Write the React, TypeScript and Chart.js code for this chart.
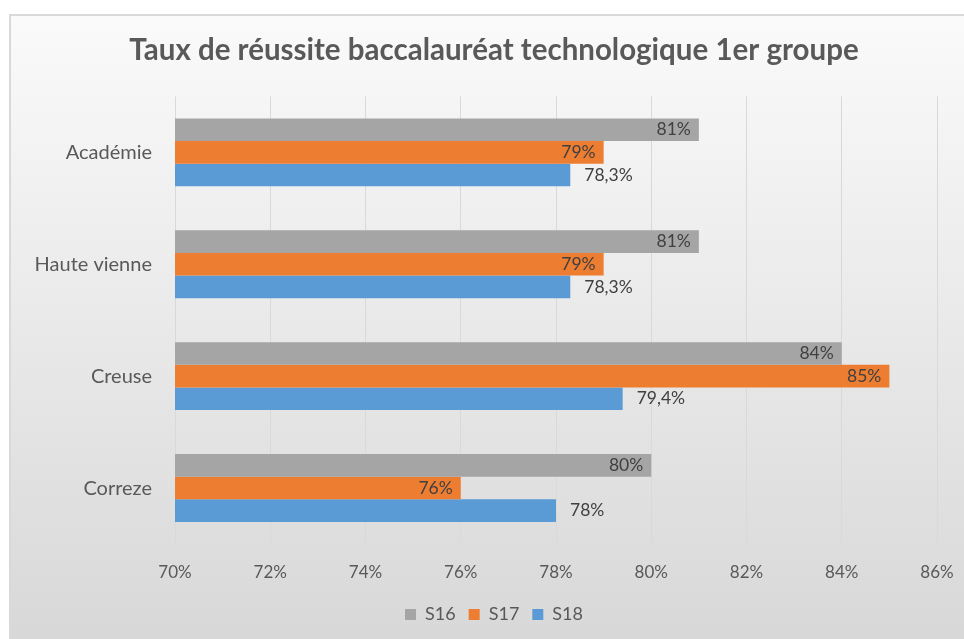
import React, { useEffect, useRef } from 'react';
import { Chart, registerables } from 'chart.js';

Chart.register(...registerables);

const chartTitle = 'Taux de réussite baccalauréat technologique 1er groupe';
const categories = ['Académie', 'Haute vienne', 'Creuse', 'Correze'];
const seriesNames = ['S16', 'S17', 'S18'];
const s16Values = [81, 81, 84, 80];
const s17Values = [79, 79, 85, 76];
const s18Values = [78.3, 78.3, 79.4, 78];
const xMin = 70;
const xMax = 86;
const xStep = 2;

const seriesColors = ['#a5a5a5', '#ed7d31', '#5b9bd5'];
const labelPlacement = ['inside', 'inside', 'outside'];

const fmtPct = (v: number) => String(v).replace('.', ',') + '%';

const FONT = 'Lato, "Open Sans", sans-serif';
const TEXT = '#595959';

const barLabelPlugin = {
  id: 'barLabels',
  afterDatasetsDraw(chart: any) {
    const ctx = chart.ctx;
    chart.data.datasets.forEach((ds: any, i: number) => {
      const meta = chart.getDatasetMeta(i);
      if (meta.hidden) return;
      meta.data.forEach((el: any, j: number) => {
        const txt = fmtPct(ds.data[j]);
        ctx.save();
        ctx.font = `17.5px ${FONT}`;
        ctx.fillStyle = '#404040';
        ctx.textBaseline = 'middle';
        if (labelPlacement[i] === 'inside') {
          ctx.textAlign = 'right';
          ctx.fillText(txt, el.x - 8, el.y);
        } else {
          ctx.textAlign = 'left';
          ctx.fillText(txt, el.x + 14, el.y);
        }
        ctx.restore();
      });
    });
  },
};

export default function App() {
  const canvasRef = useRef<HTMLCanvasElement | null>(null);

  useEffect(() => {
    if (!canvasRef.current) return;
    const seriesData = [s16Values, s17Values, s18Values];
    const chart = new Chart(canvasRef.current, {
      type: 'bar',
      data: {
        labels: categories,
        datasets: seriesNames.map((name, i) => ({
          label: name,
          data: seriesData[i],
          backgroundColor: seriesColors[i],
          borderWidth: 0,
          categoryPercentage: 0.607,
          barPercentage: 1,
          xAxisID: 'x',
          yAxisID: 'y',
        })),
      },
      options: {
        indexAxis: 'y',
        responsive: false,
        animation: false,
        layout: { padding: { left: 0, right: 0, top: 0, bottom: 5.5 } },
        plugins: {
          title: {
            display: true,
            text: chartTitle,
            color: TEXT,
            font: { family: FONT, size: 29.5, weight: 'bold' },
            padding: { top: 33, bottom: 28 },
          },
          legend: {
            display: true,
            position: 'bottom',
            labels: {
              boxWidth: 11,
              boxHeight: 11,
              padding: 13,
              color: TEXT,
              font: { family: FONT, size: 18 },
            },
          },
          tooltip: { enabled: false },
        },
        scales: {
          x: {
            type: 'linear',
            min: xMin,
            max: xMax,
            ticks: {
              stepSize: xStep,
              color: TEXT,
              font: { family: FONT, size: 17 },
              padding: 18,
              callback: (v: any) => v + '%',
            },
            grid: { color: '#d9d9d9', drawTicks: false },
            border: { display: false },
            afterFit: (s: any) => {
              s.height = 48.5;
            },
          },
          y: {
            type: 'category',
            position: 'left',
            ticks: {
              color: TEXT,
              font: { family: FONT, size: 20 },
              padding: 23,
            },
            grid: { display: false, drawTicks: false },
            border: { display: false },
            afterFit: (s: any) => {
              s.width = 175;
            },
          },
          yRight: {
            type: 'linear',
            position: 'right',
            min: 0,
            max: 1,
            ticks: { display: false },
            grid: { display: false, drawTicks: false },
            border: { display: false },
            afterFit: (s: any) => {
              s.width = 51;
            },
          },
        },
      },
      plugins: [barLabelPlugin],
    } as any);
    return () => chart.destroy();
  }, []);

  return (
    <div
      style={{
        position: 'fixed',
        left: 0,
        top: 0,
        width: 964,
        height: 639,
        overflow: 'hidden',
        background: '#ffffff',
      }}
    >
      <div
        style={{
          position: 'absolute',
          left: 9,
          top: 14,
          width: 1000,
          height: 660,
          border: '2px solid #d9d9d9',
          background: 'linear-gradient(to bottom, #fafafa 0%, #d8d8d8 95%, #d6d6d6 100%)',
          boxSizing: 'border-box',
        }}
      />
      <canvas
        ref={canvasRef}
        width={988}
        height={639}
        style={{ position: 'absolute', left: 0, top: 0, width: 988, height: 639 }}
      />
    </div>
  );
}
